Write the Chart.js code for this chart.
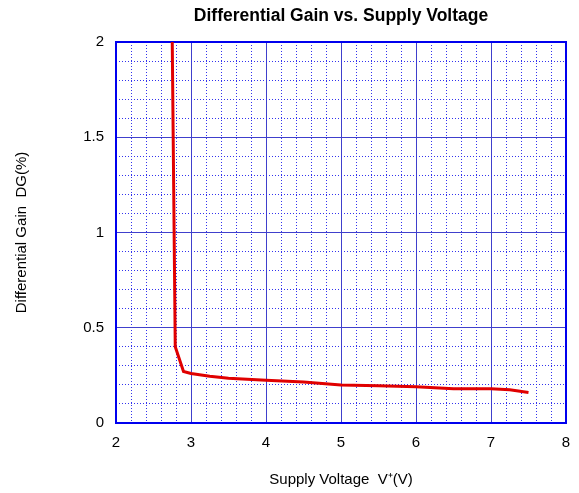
<!DOCTYPE html>
<html>
<head>
<meta charset="utf-8">
<script src="https://cdn.jsdelivr.net/npm/chart.js@4"></script>
<style>
  body { margin: 0; background: #fff; }
</style>
</head>
<body>
<canvas id="gainChart" width="579" height="493"></canvas>
<script>
// values
const supplyVoltage = [2.75, 2.77, 2.79, 2.9, 3.0, 3.25, 3.5, 4.0, 4.5, 5.0, 5.5, 6.0, 6.5, 7.0, 7.25, 7.5];
const diffGain = [2.0, 1.2, 0.4, 0.27, 0.26, 0.245, 0.235, 0.225, 0.215, 0.2, 0.195, 0.19, 0.18, 0.18, 0.175, 0.16];
const xTickLabels = [2, 3, 4, 5, 6, 7, 8];
const yTickLabels = [0, 0.5, 1, 1.5, 2];

const FONT = "'Liberation Sans', Arial, sans-serif";
const TITLE = "Differential Gain vs. Supply Voltage";

// blue frame round the plot area, title centred over it
const frame = {
    id: "frame",
    beforeDatasetsDraw(chart) {
        const a = chart.chartArea;
        const ctx = chart.ctx;
        ctx.save();
        ctx.strokeStyle = "#0000ee";
        ctx.lineWidth = 2;
        ctx.strokeRect(a.left, a.top, a.right - a.left, a.bottom - a.top);
        ctx.restore();
    },
    afterDraw(chart) {
        const a = chart.chartArea;
        const ctx = chart.ctx;
        ctx.save();
        ctx.fillStyle = "#000";
        ctx.font = "bold 17.5px " + FONT;
        ctx.textAlign = "center";
        ctx.textBaseline = "middle";
        ctx.fillText(TITLE, (a.left + a.right) / 2, 16);
        ctx.restore();
    }
};

const points = supplyVoltage.map((v, i) => ({ x: v, y: diffGain[i] }));

new Chart(document.getElementById("gainChart").getContext("2d"), {
    type: "scatter",
    data: {
        datasets: [{
            data: points,
            showLine: true,
            borderColor: "#e00000",
            borderWidth: 3,
            pointRadius: 0,
            tension: 0
        }]
    },
    options: {
        responsive: false,
        animation: false,
        layout: { padding: { left: 11, right: 13, top: 42, bottom: 4 } },
        plugins: {
            legend: { display: false },
            tooltip: { enabled: false },
            title: { display: false }
        },
        scales: {
            x: {
                type: "linear",
                position: "bottom",
                min: 2, max: 8,
                afterBuildTicks: s => { s.ticks = xTickLabels.map(v => ({ value: v })); },
                afterFit: s => { s.height = 66; s.paddingLeft = 0; s.paddingRight = 0; },
                ticks: { color: "#000", padding: 11, font: { family: FONT, size: 15 }, callback: v => String(v) },
                grid: { color: "#4040cc", lineWidth: 1, drawTicks: false },
                border: { display: true, color: "#0000ee", width: 2 },
                title: {
                    display: true,
                    text: "Supply Voltage  V\u207A(V)",
                    color: "#000",
                    font: { family: FONT, size: 15 },
                    padding: { top: 4, bottom: 0 }
                }
            },
            xMinor: {
                type: "linear",
                position: "bottom",
                min: 2, max: 8,
                afterBuildTicks: s => {
                    const t = [];
                    for (let k = 1; k < 30; k++) if (k % 5) t.push({ value: 2 + k * 0.2 });
                    s.ticks = t;
                },
                afterFit: s => { s.height = 0; s.paddingLeft = 0; s.paddingRight = 0; },
                ticks: { display: false },
                grid: { color: "#3333ee", lineWidth: 1, drawTicks: false },
                border: { display: false, dash: [1, 2] }
            },
            y: {
                type: "linear",
                position: "left",
                min: 0, max: 2,
                afterBuildTicks: s => { s.ticks = yTickLabels.map(v => ({ value: v })); },
                afterFit: s => { s.width = 105; },
                ticks: { color: "#000", padding: 12, font: { family: FONT, size: 15 }, callback: v => String(v) },
                grid: { color: "#4040cc", lineWidth: 1, drawTicks: false },
                border: { display: true, color: "#0000ee", width: 2 },
                title: {
                    display: true,
                    text: "Differential Gain  DG(%)",
                    color: "#000",
                    font: { family: FONT, size: 15 },
                    padding: { top: 2, bottom: 4 }
                }
            },
            yMinor: {
                type: "linear",
                position: "left",
                min: 0, max: 2,
                afterBuildTicks: s => {
                    const t = [];
                    for (let k = 1; k < 20; k++) if (k % 5) t.push({ value: k * 0.1 });
                    s.ticks = t;
                },
                afterFit: s => { s.width = 0; },
                ticks: { display: false },
                grid: { color: "#3333ee", lineWidth: 1, drawTicks: false },
                border: { display: false, dash: [1, 2] }
            }
        }
    },
    plugins: [frame]
});
</script>
</body>
</html>
